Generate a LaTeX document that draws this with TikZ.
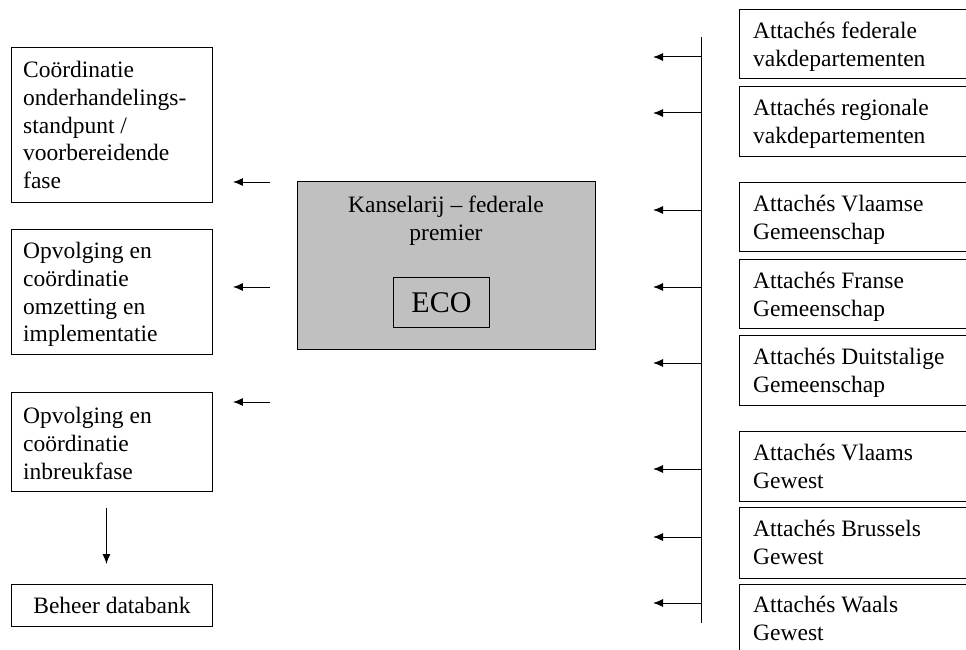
\documentclass[tikz,border=0pt]{standalone}
\usepackage{fontspec}
\setmainfont{Liberation Serif}
\usetikzlibrary{arrows.meta}
\definecolor{boxgray}{HTML}{C0C0C0}
\begin{document}
\begin{tikzpicture}[x=1pt,y=-1pt,
  box/.style={draw=black, line width=0.9pt, anchor=north west, inner sep=0pt},
  txt/.style={anchor=north west, inner sep=0pt, align=left, font=\fontsize{23.5}{27.8}\selectfont},
  arr/.style={-{Latex[length=10pt,width=8pt]}, line width=1pt},
  bus/.style={line width=1pt}]
\useasboundingbox (0,0) rectangle (966,650);
\clip (0,0) rectangle (966,650);

% left column
\node[box, minimum width=201pt, minimum height=155pt] (c1) at (11,47) {};
\node[txt] (t1) at ([xshift=12pt,yshift=-14pt]c1.north west) {Coördinatie\\onderhandelings-\\standpunt /\\voorbereidende\\fase};
\node[box, minimum width=201pt, minimum height=125pt] (c2) at (11,229) {};
\node[txt] (t2) at ([xshift=12pt,yshift=-13pt]c2.north west) {Opvolging en\\coördinatie\\omzetting en\\implementatie};
\node[box, minimum width=201pt, minimum height=99pt] (c3) at (11,392) {};
\node[txt] (t3) at ([xshift=12pt,yshift=-15pt]c3.north west) {Opvolging en\\coördinatie\\inbreukfase};
\node[box, minimum width=201pt, minimum height=42pt, font=\fontsize{23.5}{27.8}\selectfont] (db) at (11,584) {Beheer databank};

% centre
\node[box, fill=boxgray, minimum width=298pt, minimum height=168pt] (k) at (297,181) {};
\node[anchor=north, inner sep=0pt, align=center, font=\fontsize{23.5}{27.8}\selectfont] (kt) at (446,196) {Kanselarij – federale\\premier};
\node[box, fill=boxgray, minimum width=96pt, minimum height=50pt, font=\fontsize{30}{36}\selectfont] (eco) at (393,277) {ECO};

% left arrows
\coordinate (a1) at (270,182);
\coordinate (a2) at (270,287);
\coordinate (a3) at (270,402);
\draw[arr, shorten >=20pt] (a1) -- (c1.east |- a1);
\draw[arr, shorten >=20pt] (a2) -- (c2.east |- a2);
\draw[arr, shorten >=20pt] (a3) -- (c3.east |- a3);
\draw[arr] ([xshift=-5.5pt,yshift=-16pt]c3.south) -- ([xshift=-5.5pt,yshift=20pt]db.north);

% right column
\node[box, minimum width=280pt, minimum height=69pt] (r1) at (739,9) {};
\node[txt] at ([xshift=14pt,yshift=-13pt]r1.north west) {Attachés federale\\vakdepartementen};
\node[box, minimum width=280pt, minimum height=70pt] (r2) at (739,86) {};
\node[txt] at ([xshift=14pt,yshift=-13pt]r2.north west) {Attachés regionale\\vakdepartementen};
\node[box, minimum width=280pt, minimum height=69pt] (r3) at (739,182) {};
\node[txt] at ([xshift=14pt,yshift=-13pt]r3.north west) {Attachés Vlaamse\\Gemeenschap};
\node[box, minimum width=280pt, minimum height=69pt] (r4) at (739,259) {};
\node[txt] at ([xshift=14pt,yshift=-13pt]r4.north west) {Attachés Franse\\Gemeenschap};
\node[box, minimum width=280pt, minimum height=70pt] (r5) at (739,335) {};
\node[txt] at ([xshift=14pt,yshift=-13pt]r5.north west) {Attachés Duitstalige\\Gemeenschap};
\node[box, minimum width=280pt, minimum height=70pt] (r6) at (739,431) {};
\node[txt] at ([xshift=14pt,yshift=-13pt]r6.north west) {Attachés Vlaams\\Gewest};
\node[box, minimum width=280pt, minimum height=71pt] (r7) at (739,507) {};
\node[txt] at ([xshift=14pt,yshift=-13pt]r7.north west) {Attachés Brussels\\Gewest};
\node[box, minimum width=280pt, minimum height=80pt] (r8) at (739,584) {};
\node[txt] at ([xshift=14pt,yshift=-12pt]r8.north west) {Attachés Waals\\Gewest};

% bus and its arrows
\coordinate (bt) at (701,37);
\coordinate (bb) at (701,623);
\draw[bus] (bt) -- (bb);
\foreach \y in {57,113,210,287,363,469,537,603}
  \draw[arr] (bt |- 0,\y) -- ++(-48,0);
\end{tikzpicture}
\end{document}
